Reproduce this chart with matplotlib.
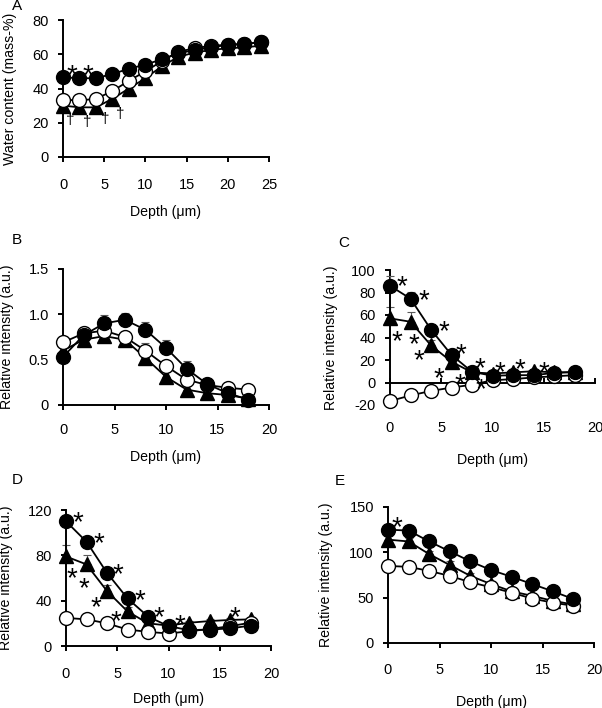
import matplotlib
matplotlib.use('Agg')
import matplotlib.pyplot as plt

plt.rcParams['font.family'] = ['Liberation Sans', 'DejaVu Sans']
plt.rcParams['font.size'] = 10.2

# ---- data ----
depth_a = [0, 2, 4, 6, 8, 10, 12, 14, 16, 18, 20, 22, 24]
a_filled = [46.5, 46, 46, 48.5, 51.5, 54, 57, 60.5, 62.5, 64, 65.5, 66, 67]
a_open = [33.5, 33, 34, 38.5, 44.5, 50, 56, 61.5, 63.5, 65, 65.5, 66, 67]
a_tri = [30, 29, 29, 34, 40, 46, 53, 58.5, 61, 62.5, 63.5, 64, 65]
a_star_x = [1.05, 3.05]
a_star_y = [52.5, 52.5]
a_dag_x = [0.85, 2.9, 5.1, 7.0]
a_dag_y = [21.5, 20.5, 21.9, 25.4]

depth = [0, 2, 4, 6, 8, 10, 12, 14, 16, 18]

b_filled = [0.53, 0.77, 0.90, 0.94, 0.83, 0.63, 0.40, 0.23, 0.13, 0.06]
b_open = [0.69, 0.79, 0.82, 0.75, 0.60, 0.43, 0.28, 0.22, 0.19, 0.17]
b_tri = [0.60, 0.72, 0.76, 0.72, 0.52, 0.31, 0.17, 0.13, 0.11, 0.07]
b_filled_err = [0.04, 0.05, 0.09, 0.07, 0.09, 0.09, 0.09, 0.05, 0.03, 0.03]
b_open_err = [0.04, 0.07, 0.05, 0.05, 0.08, 0.06, 0.05, 0.04, 0.03, 0.03]
b_tri_err = [0.04, 0.05, 0.05, 0.06, 0.06, 0.05, 0.04, 0.03, 0.03, 0.03]

c_filled = [86, 74.5, 47, 24.5, 9.5, 6, 6.5, 6.5, 8.5, 9.5]
c_open = [-16.5, -11.5, -7.5, -4.5, -2, 2, 3, 4.5, 5.5, 6.5]
c_tri = [57, 54, 33, 18.5, 9, 8, 9, 10, 9, 9]
c_filled_err = [9, 6, 5, 4, 2, 2, 2, 2, 2, 2]
c_open_err = [2, 2, 2, 2, 2, 2, 2, 2, 2, 2]
c_tri_err = [10, 9, 5, 4, 2, 2, 2, 2, 2, 2]
c_star_x = [1.2, 3.3, 5.3, 6.9, 8.8, 10.7, 12.7, 15.0, 0.7, 2.3, 2.8, 4.8, 6.8, 8.9]
c_star_y = [92.6, 79.9, 52.6, 32.4, 20, 16.4, 18.5, 16.4, 43.7, 40.7, 26.5, 11.1, 5.2, 1]

d_filled = [110, 92, 64.5, 42, 26, 17.5, 14, 14.5, 15.5, 18]
d_open = [24.8, 23.5, 20, 14.5, 12.5, 11, 13, 15, 17.5, 20.5]
d_tri = [79, 72, 48.5, 30.5, 20, 18, 20.5, 22, 23, 23.5]
d_filled_err = [5, 5, 4, 4, 3, 2, 2, 2, 2, 2]
d_open_err = [2, 2, 2, 2, 2, 2, 2, 2, 2, 2]
d_tri_err = [10, 8, 5, 4, 3, 2, 2, 2, 2, 2]
d_star_x = [1.2, 3.2, 5.1, 7.2, 9.1, 11.1, 16.5, 0.6, 1.7, 2.9, 4.9]
d_star_y = [116.4, 97.8, 70.2, 47.4, 32.6, 25.2, 32.6, 66.7, 57.8, 41.5, 28.7]

e_filled = [125, 124, 112, 101, 90, 80.5, 73, 65, 57, 48.5]
e_open = [85, 84, 79.5, 74, 67, 61.5, 55.5, 49, 44.5, 41]
e_tri = [114, 112, 98, 86, 74, 65, 57, 52, 46.5, 42.5]
e_filled_err = [4, 4, 4, 4, 3, 3, 3, 3, 3, 3]
e_open_err = [3, 3, 3, 3, 3, 3, 3, 3, 3, 3]
e_tri_err = [4, 4, 4, 4, 3, 3, 3, 3, 3, 3]
e_star_x = [0.9]
e_star_y = [136]

W, H = 602, 708
fig = plt.figure(figsize=(W / 100, H / 100), dpi=100)


def px_axes(left, right, bottom, top):
    return fig.add_axes([left / W, 1 - bottom / H, (right - left) / W, (bottom - top) / H])


def series(ax, x, tri, opn, fil, errs=None):
    ms = 10
    sets = [(tri, '^', 'black', 10.5), (opn, 'o', 'white', ms), (fil, 'o', 'black', ms)]
    for i, (y, m, fc, s) in enumerate(sets):
        if errs is not None:
            ax.errorbar(x, y, yerr=[[0] * len(y), errs[i]], fmt='none', ecolor='0.35',
                        elinewidth=0.8, capsize=3, capthick=0.8, clip_on=False, zorder=2 + i)
        ax.plot(x, y, color='black', lw=1.3, marker=m, markersize=s, markerfacecolor=fc,
                markeredgecolor='black', markeredgewidth=1.0, clip_on=False, zorder=3 + i)


def style(ax, xmax, xticks, ylim, yticks, ylabels, ylab, ylab_x, xlab_y, xpad):
    for s in ['top', 'right']:
        ax.spines[s].set_visible(False)
    for s in ['left', 'bottom']:
        ax.spines[s].set_linewidth(1.4)
    ax.set_xlim(0, xmax)
    ax.set_ylim(*ylim)
    ax.set_xticks(xticks)
    ax.set_yticks(yticks)
    ax.set_yticklabels(ylabels)
    ax.tick_params(axis='y', direction='out', length=3.6, width=1.4, pad=6.5, labelsize=10.5)
    ax.tick_params(axis='x', direction='out', length=3.6, width=1.4, pad=xpad, labelsize=10.5)
    ax.set_ylabel(ylab)
    ax.set_xlabel('Depth (\u03bcm)')
    ax.yaxis.set_label_coords(ylab_x, 0.5)
    ax.xaxis.set_label_coords(0.5, xlab_y)


def stars(ax, xs, ys, sym='*', fs=20, dy=None):
    if dy is None:
        dy = -0.32 * fs
    for x, y in zip(xs, ys):
        ax.annotate(sym, xy=(x, y), xytext=(0, dy), textcoords='offset points',
                    ha='center', va='center', fontsize=fs, zorder=10, annotation_clip=False)


rel = 'Relative intensity (a.u.)'

# A
axA = px_axes(63, 269, 157, 20)
series(axA, depth_a, a_tri, a_open, a_filled)
style(axA, 25, [0, 5, 10, 15, 20, 25], (0, 80), [0, 20, 40, 60, 80],
      ['0', '20', '40', '60', '80'], 'Water content (mass-%)', -0.223, -0.35, 11.5)
stars(axA, a_star_x, a_star_y)
stars(axA, a_dag_x, a_dag_y, sym='\u2020', fs=11, dy=0)

# B
axB = px_axes(63, 269, 405, 269)
series(axB, depth, b_tri, b_open, b_filled, (b_tri_err, b_open_err, b_filled_err))
style(axB, 20, [0, 5, 10, 15, 20], (0, 1.5), [0, 0.5, 1.0, 1.5],
      ['0', '0.5', '1.0', '1.5'], rel, -0.238, -0.332, 9.5)

# C
axC = px_axes(390, 595, 405, 270)
series(axC, depth, c_tri, c_open, c_filled, (c_tri_err, c_open_err, c_filled_err))
style(axC, 20, [0, 5, 10, 15, 20], (-20, 100), [-20, 0, 20, 40, 60, 80, 100],
      ['-20', '0', '20', '40', '60', '80', '100'], rel, -0.254, -0.356, 29)
axC.spines['bottom'].set_position(('data', 0))
axC.tick_params(axis='x', direction='in', length=3.6, width=1.4, pad=28)
stars(axC, c_star_x, c_star_y)

# D
axD = px_axes(66, 271, 646, 510)
series(axD, depth, d_tri, d_open, d_filled, (d_tri_err, d_open_err, d_filled_err))
style(axD, 20, [0, 5, 10, 15, 20], (0, 120), [0, 40, 80, 120],
      ['0', '40', '80', '120'], rel, -0.259, -0.338, 11.5)
stars(axD, d_star_x, d_star_y)

# E
axE = px_axes(388, 594, 643, 507)
series(axE, depth, e_tri, e_open, e_filled, (e_tri_err, e_open_err, e_filled_err))
style(axE, 20, [0, 5, 10, 15, 20], (0, 150), [0, 50, 100, 150],
      ['0', '50', '100', '150'], rel, -0.267, -0.382, 11)
stars(axE, e_star_x, e_star_y)

for lab, x, y in [('A', 17, 6), ('B', 17, 240), ('C', 344, 243), ('D', 17, 480), ('E', 340, 481)]:
    fig.text(x / W, 1 - y / H, lab, ha='center', va='center', fontsize=11)

fig.savefig('out.png', dpi=100)
